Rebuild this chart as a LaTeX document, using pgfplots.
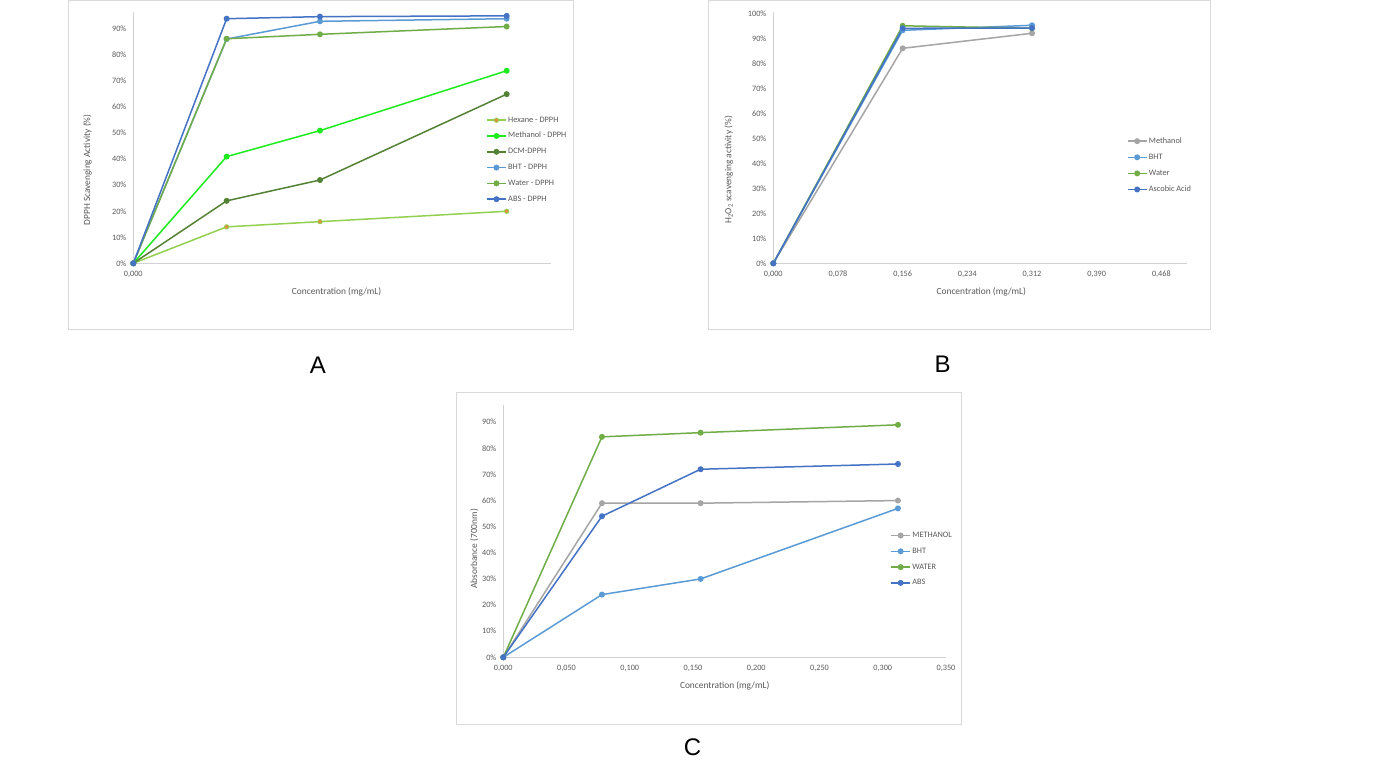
\documentclass[border=0pt]{standalone}
\usepackage{fontspec}
\setmainfont{Carlito}
\newfontfamily\arialfont{Liberation Sans}
\usepackage{pgfplots}
\pgfplotsset{compat=1.18}

\definecolor{hexgreen}{RGB}{146,208,80}
\definecolor{hexorange}{RGB}{230,140,60}
\definecolor{methgreen}{RGB}{30,235,30}
\definecolor{dcmgreen}{RGB}{84,130,53}
\definecolor{bhtblue}{RGB}{91,155,213}
\definecolor{watergreen}{RGB}{112,173,71}
\definecolor{absblue}{RGB}{68,114,196}
\definecolor{methgray}{RGB}{165,165,165}
\definecolor{txtgray}{RGB}{89,89,89}
\definecolor{axgray}{RGB}{210,210,210}
\definecolor{framegray}{RGB}{217,217,217}

\pgfplotsset{
  excel/.style={
    scale only axis,
    clip=false,
    axis x line*=bottom,
    axis y line*=left,
    axis line style={draw=axgray, line width=0.8pt, -},
    major tick length=0pt,
    tick label style={font=\fontsize{8.2}{9.5}\selectfont, text=txtgray},
    /pgf/number format/assume math mode=true,
    yticklabel style={xshift=-3.5pt},
    xticklabel style={yshift=-4pt},
    label style={font=\fontsize{9.4}{11}\selectfont, text=txtgray},
    ymin=0, xmin=0,
    every axis plot/.append style={line width=1.5pt, mark=*, mark size=2.2pt},
    legend style={draw=none, fill=none, inner sep=0pt, row sep=7.8pt,
      anchor=north west, font=\fontsize{8.3}{9.5}\selectfont, text=txtgray,
      nodes={inner xsep=1.5pt, inner ysep=0pt, text height=6pt, text depth=2pt}},
    legend cell align=left,
    legend image code/.code={
      \draw[line width=1.5pt, mark size=2.2pt, mark repeat=2, mark phase=2, #1] plot coordinates {(0pt,0pt) (9.5pt,0pt) (19pt,0pt)};},
  },
}

\begin{document}
\begin{tikzpicture}
\path[fill=white] (0pt,0pt) rectangle (1379pt,776pt);
% frames
\draw[framegray, line width=1pt] (68.5pt,446pt) rectangle (573.5pt,775.5pt);
\draw[framegray, line width=1pt] (708.5pt,446pt) rectangle (1210.5pt,775.5pt);
\draw[framegray, line width=1pt] (456.5pt,51pt) rectangle (961.5pt,383pt);

% ---------- A ----------
\begin{axis}[excel, at={(133.3pt,512.7pt)}, anchor=south west,
  width=417.4pt, height=251.6pt,
  xmax=0.3488, ymax=96.7,
  xtick={0}, xticklabels={0{,}000},
  ytick={0,10,...,90}, yticklabels={0\%,10\%,20\%,30\%,40\%,50\%,60\%,70\%,80\%,90\%},
  xlabel={Concentration (mg/mL)}, ylabel={DPPH Scavenging Activity (\%)},
  xlabel style={at={(axis description cs:0.487,-0.115)}, anchor=center},
  ylabel style={at={(axis description cs:-0.110,0.371)}, anchor=center},
  legend style={at={(axis description cs:0.845,0.5855)}},
]
\addplot[hexgreen, mark options={fill=hexorange, draw=hexgreen, line width=0.8pt}] coordinates {(0,0) (0.078,14) (0.156,16) (0.312,20)};
\addlegendentry{Hexane - DPPH}
\addplot[methgreen, mark options={fill=methgreen}] coordinates {(0,0) (0.078,41) (0.156,51) (0.312,74)};
\addlegendentry{Methanol - DPPH}
\addplot[dcmgreen, mark options={fill=dcmgreen}] coordinates {(0,0) (0.078,24) (0.156,32) (0.312,65)};
\addlegendentry{DCM-DPPH}
\addplot[bhtblue, mark options={fill=bhtblue}] coordinates {(0,0) (0.078,86.2) (0.156,93) (0.312,94)};
\addlegendentry{BHT - DPPH}
\addplot[watergreen, mark options={fill=watergreen}] coordinates {(0,0) (0.078,86.3) (0.156,88) (0.312,91)};
\addlegendentry{Water - DPPH}
\addplot[absblue, mark options={fill=absblue}] coordinates {(0,0) (0.078,94) (0.156,94.8) (0.312,95.1)};
\addlegendentry{ABS - DPPH}
\end{axis}

% ---------- B ----------
\begin{axis}[excel, at={(773.3pt,512.7pt)}, anchor=south west,
  width=414pt, height=251.6pt,
  xmax=0.4993, ymax=100.64,
  xtick={0,0.078,0.156,0.234,0.312,0.390,0.468},
  xticklabels={0{,}000,0{,}078,0{,}156,0{,}234,0{,}312,0{,}390,0{,}468},
  ytick={0,10,...,100}, yticklabels={0\%,10\%,20\%,30\%,40\%,50\%,60\%,70\%,80\%,90\%,100\%},
  xlabel={Concentration (mg/mL)}, ylabel={H\textsubscript{2}O\textsubscript{2} scavenging activity (\%)},
  xlabel style={at={(axis description cs:0.5024,-0.115)}, anchor=center},
  ylabel style={at={(axis description cs:-0.1077,0.371)}, anchor=center},
  legend style={at={(axis description cs:0.8536,0.502)}, row sep=8.1pt},
]
\addplot[methgray, mark options={fill=methgray}] coordinates {(0,0) (0.156,86) (0.312,92)};
\addlegendentry{Methanol}
\addplot[bhtblue, mark options={fill=bhtblue}] coordinates {(0,0) (0.156,93.2) (0.312,95.2)};
\addlegendentry{BHT}
\addplot[watergreen, mark options={fill=watergreen}] coordinates {(0,0) (0.156,95) (0.312,94)};
\addlegendentry{Water}
\addplot[absblue, mark options={fill=absblue}] coordinates {(0,0) (0.156,94) (0.312,94.1)};
\addlegendentry{Ascobic Acid}
\end{axis}

% ---------- C ----------
\begin{axis}[excel, at={(503.3pt,118.7pt)}, anchor=south west,
  width=442.7pt, height=252.6pt,
  xmax=0.35, ymax=96.7,
  xtick={0,0.05,0.1,0.15,0.2,0.25,0.3,0.35},
  xticklabels={0{,}000,0{,}050,0{,}100,0{,}150,0{,}200,0{,}250,0{,}300,0{,}350},
  ytick={0,10,...,90}, yticklabels={0\%,10\%,20\%,30\%,40\%,50\%,60\%,70\%,80\%,90\%},
  xlabel={Concentration (mg/mL)}, ylabel={Absorbance (700nm)},
  xlabel style={at={(axis description cs:0.5001,-0.1148)}, anchor=center},
  ylabel style={at={(axis description cs:-0.0655,0.4287)}, anchor=center},
  legend style={at={(axis description cs:0.874,0.4988)}},
]
\addplot[methgray, mark options={fill=methgray}] coordinates {(0,0) (0.078,59) (0.156,59) (0.312,60)};
\addlegendentry{METHANOL}
\addplot[bhtblue, mark options={fill=bhtblue}] coordinates {(0,0) (0.078,24) (0.156,30) (0.312,57)};
\addlegendentry{BHT}
\addplot[watergreen, mark options={fill=watergreen}] coordinates {(0,0) (0.078,84.4) (0.156,86) (0.312,89)};
\addlegendentry{WATER}
\addplot[absblue, mark options={fill=absblue}] coordinates {(0,0) (0.078,54) (0.156,72) (0.312,74)};
\addlegendentry{ABS}
\end{axis}

\node[font=\arialfont\fontsize{24}{28}\selectfont] at (318pt,411pt) {A};
\node[font=\arialfont\fontsize{24}{28}\selectfont] at (942.5pt,412pt) {B};
\node[font=\arialfont\fontsize{24}{28}\selectfont] at (692.5pt,29pt) {C};
\end{tikzpicture}
\end{document}
